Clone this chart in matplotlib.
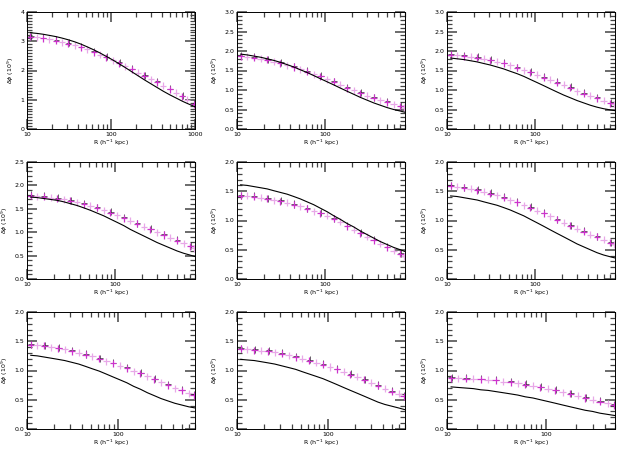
import numpy as np
import matplotlib
matplotlib.use("Agg")
import matplotlib.pyplot as plt
from matplotlib.ticker import MultipleLocator, LogLocator, NullFormatter, FixedLocator, FixedFormatter

# radial bins (h^-1 kpc), shared by all panels
R = [11, 13, 15.5, 18.5, 22, 26, 31, 37, 44, 52, 62, 74, 88, 105, 125,
     148, 176, 210, 250, 297, 353, 420, 500, 595, 707, 800, 1000]

# per panel: x max, y max, y major step
xmax = [1000, 800, 800, 800, 800, 800, 700, 700, 500]
ymax = [4, 3, 3, 2.5, 2, 2, 2, 2, 2]
ystep = [1, 0.5, 0.5, 0.5, 0.5, 0.5, 0.5, 0.5, 0.5]

# model curves (black lines)
line1 = [3.29, 3.27, 3.24, 3.2, 3.16, 3.11, 3.05, 2.98, 2.9, 2.81, 2.71, 2.6, 2.48, 2.36, 2.23,
         2.1, 1.96, 1.82, 1.68, 1.55, 1.42, 1.29, 1.17, 1.06, 0.95, 0.88, 0.76]
line2 = [1.92, 1.9, 1.87, 1.84, 1.8, 1.76, 1.71, 1.65, 1.59, 1.52, 1.45, 1.37, 1.29, 1.21, 1.13,
         1.05, 0.97, 0.89, 0.81, 0.74, 0.67, 0.61, 0.55, 0.5, 0.46, 0.43]
line3 = [1.82, 1.8, 1.78, 1.75, 1.72, 1.68, 1.64, 1.59, 1.54, 1.48, 1.42, 1.35, 1.27, 1.19, 1.11,
         1.03, 0.95, 0.87, 0.8, 0.73, 0.67, 0.61, 0.56, 0.52, 0.49, 0.47]
line4 = [1.75, 1.74, 1.72, 1.7, 1.68, 1.65, 1.61, 1.57, 1.52, 1.47, 1.41, 1.35, 1.28, 1.21, 1.14,
         1.06, 0.99, 0.92, 0.85, 0.78, 0.72, 0.66, 0.6, 0.55, 0.51, 0.48]
line5 = [1.61, 1.6, 1.58, 1.56, 1.54, 1.51, 1.48, 1.45, 1.41, 1.37, 1.32, 1.27, 1.21, 1.15, 1.08,
         1.02, 0.95, 0.89, 0.82, 0.76, 0.7, 0.64, 0.59, 0.54, 0.5, 0.47]
line6 = [1.42, 1.41, 1.39, 1.37, 1.35, 1.32, 1.29, 1.26, 1.22, 1.18, 1.13, 1.08, 1.02, 0.96, 0.9,
         0.84, 0.78, 0.72, 0.66, 0.6, 0.55, 0.5, 0.45, 0.41, 0.38, 0.36]
line7 = [1.26, 1.25, 1.23, 1.21, 1.19, 1.17, 1.14, 1.11, 1.07, 1.03, 0.99, 0.94, 0.89, 0.84, 0.79,
         0.73, 0.68, 0.62, 0.57, 0.52, 0.48, 0.44, 0.41, 0.38, 0.36]
line8 = [1.19, 1.18, 1.17, 1.15, 1.13, 1.11, 1.08, 1.05, 1.02, 0.98, 0.94, 0.9, 0.86, 0.81, 0.76,
         0.71, 0.66, 0.61, 0.56, 0.51, 0.46, 0.42, 0.39, 0.36, 0.33]
line9 = [0.72, 0.71, 0.7, 0.69, 0.67, 0.66, 0.64, 0.62, 0.6, 0.58, 0.55, 0.53, 0.5, 0.47, 0.44,
         0.41, 0.38, 0.35, 0.32, 0.3, 0.27, 0.25, 0.23]

# measured profiles (crosses)
data1 = [3.15, 3.13, 3.1, 3.06, 3.02, 2.97, 2.92, 2.86, 2.79, 2.72, 2.63, 2.54, 2.45, 2.35, 2.25,
         2.15, 2.04, 1.93, 1.82, 1.7, 1.6, 1.48, 1.36, 1.24, 1.12, 1.0, 0.85]
data2 = [1.86, 1.85, 1.83, 1.8, 1.77, 1.73, 1.69, 1.64, 1.59, 1.53, 1.47, 1.41, 1.35, 1.28, 1.21,
         1.14, 1.05, 0.99, 0.92, 0.85, 0.8, 0.74, 0.69, 0.63, 0.58, 0.54]
data3 = [1.9, 1.89, 1.87, 1.85, 1.83, 1.8, 1.76, 1.72, 1.68, 1.63, 1.57, 1.51, 1.45, 1.39, 1.32,
         1.26, 1.19, 1.13, 1.06, 0.97, 0.91, 0.85, 0.79, 0.72, 0.66, 0.63]
data4 = [1.78, 1.77, 1.76, 1.74, 1.72, 1.7, 1.67, 1.64, 1.6, 1.56, 1.52, 1.47, 1.42, 1.36, 1.3,
         1.24, 1.18, 1.12, 1.06, 1.0, 0.94, 0.88, 0.82, 0.76, 0.7, 0.66]
data5 = [1.42, 1.42, 1.41, 1.39, 1.37, 1.35, 1.33, 1.3, 1.27, 1.24, 1.2, 1.16, 1.12, 1.08, 1.03,
         0.98, 0.9, 0.84, 0.78, 0.72, 0.66, 0.6, 0.54, 0.48, 0.43, 0.39]
data6 = [1.59, 1.58, 1.56, 1.54, 1.52, 1.49, 1.46, 1.43, 1.39, 1.35, 1.31, 1.26, 1.22, 1.17, 1.12,
         1.07, 1.01, 0.96, 0.91, 0.86, 0.81, 0.76, 0.72, 0.67, 0.62, 0.59]
data7 = [1.44, 1.43, 1.42, 1.4, 1.38, 1.36, 1.33, 1.3, 1.27, 1.24, 1.2, 1.16, 1.12, 1.08, 1.04,
         0.99, 0.95, 0.9, 0.85, 0.8, 0.75, 0.7, 0.66, 0.61, 0.58]
data8 = [1.37, 1.36, 1.35, 1.34, 1.33, 1.31, 1.29, 1.26, 1.23, 1.2, 1.17, 1.13, 1.1, 1.06, 1.02,
         0.98, 0.93, 0.89, 0.84, 0.79, 0.74, 0.69, 0.64, 0.6, 0.56]
data9 = [0.87, 0.87, 0.86, 0.86, 0.85, 0.84, 0.83, 0.81, 0.8, 0.78, 0.76, 0.74, 0.71, 0.69, 0.66,
         0.63, 0.6, 0.57, 0.53, 0.5, 0.47, 0.44, 0.41]

lines = [line1, line2, line3, line4, line5, line6, line7, line8, line9]
datas = [data1, data2, data3, data4, data5, data6, data7, data8, data9]

fig = plt.figure(figsize=(6.3, 4.5), dpi=100)

lefts = [27, 237, 447]
tops = [12, 162, 312]
w, h = 168, 117
fs = 4.5

for i in range(9):
    row, col = i // 3, i % 3
    ax = fig.add_axes([lefts[col] / 630, 1 - (tops[row] + h) / 450, w / 630, h / 450])
    ax.set_xscale("log")

    rl = np.array(R[:len(lines[i])], dtype=float)
    rl[-1] = xmax[i]
    ax.plot(rl, lines[i], color="black", lw=0.8, zorder=3)

    rd = np.array(R[:len(datas[i])], dtype=float)
    rd[-1] = min(rd[-1], xmax[i] * 0.97)
    yd = np.array(datas[i])
    yerr = 0.03 * ymax[i]
    # black crosses (every other bin), mostly hidden under the magenta ones
    ax.errorbar(rd[::2] * 1.01, yd[::2] + 0.006 * ymax[i],
                xerr=[rd[::2] * 0.07, rd[::2] * 0.08],
                yerr=yerr, fmt="none", ecolor="#222222", elinewidth=0.5, capsize=0, zorder=2)
    for k in range(len(rd)):
        c = "#cc33cc" if k % 2 == 0 else "#e8a8e8"
        ax.errorbar(rd[k], yd[k], xerr=[[rd[k] * 0.08], [rd[k] * 0.09]], yerr=yerr,
                    fmt="none", ecolor=c, elinewidth=0.9, capsize=0, zorder=2.5)

    ax.set_xlim(10, xmax[i])
    ax.set_ylim(0, ymax[i])

    major_x = [10, 100, 1000]
    ax.xaxis.set_major_locator(FixedLocator(major_x))
    ax.xaxis.set_major_formatter(FixedFormatter([str(v) for v in major_x]))
    ax.xaxis.set_minor_locator(LogLocator(base=10, subs=np.arange(2, 10), numticks=20))
    ax.xaxis.set_minor_formatter(NullFormatter())

    ax.yaxis.set_major_locator(MultipleLocator(ystep[i]))
    ax.yaxis.set_minor_locator(MultipleLocator(0.1))
    if ystep[i] == 1:
        ax.yaxis.set_major_formatter(matplotlib.ticker.FormatStrFormatter("%d"))
    else:
        ax.yaxis.set_major_formatter(matplotlib.ticker.FormatStrFormatter("%.1f"))

    ax.tick_params(which="major", direction="in", top=True, right=True,
                   length=7, width=1.1, colors="#444444", labelsize=fs, pad=2)
    ax.tick_params(which="minor", direction="in", top=True, right=True,
                   length=3.5, width=0.9, colors="#444444")
    ax.tick_params(which="major", labelcolor="black")
    for s in ax.spines.values():
        s.set_linewidth(0.7)

    ax.set_xlabel(r"R (h$^{-1}$ kpc)", fontsize=fs, labelpad=1)
    ax.set_ylabel(r"$\delta\phi$ (10$^9$)", fontsize=fs, labelpad=3)

fig.savefig("out.png", dpi=100)
